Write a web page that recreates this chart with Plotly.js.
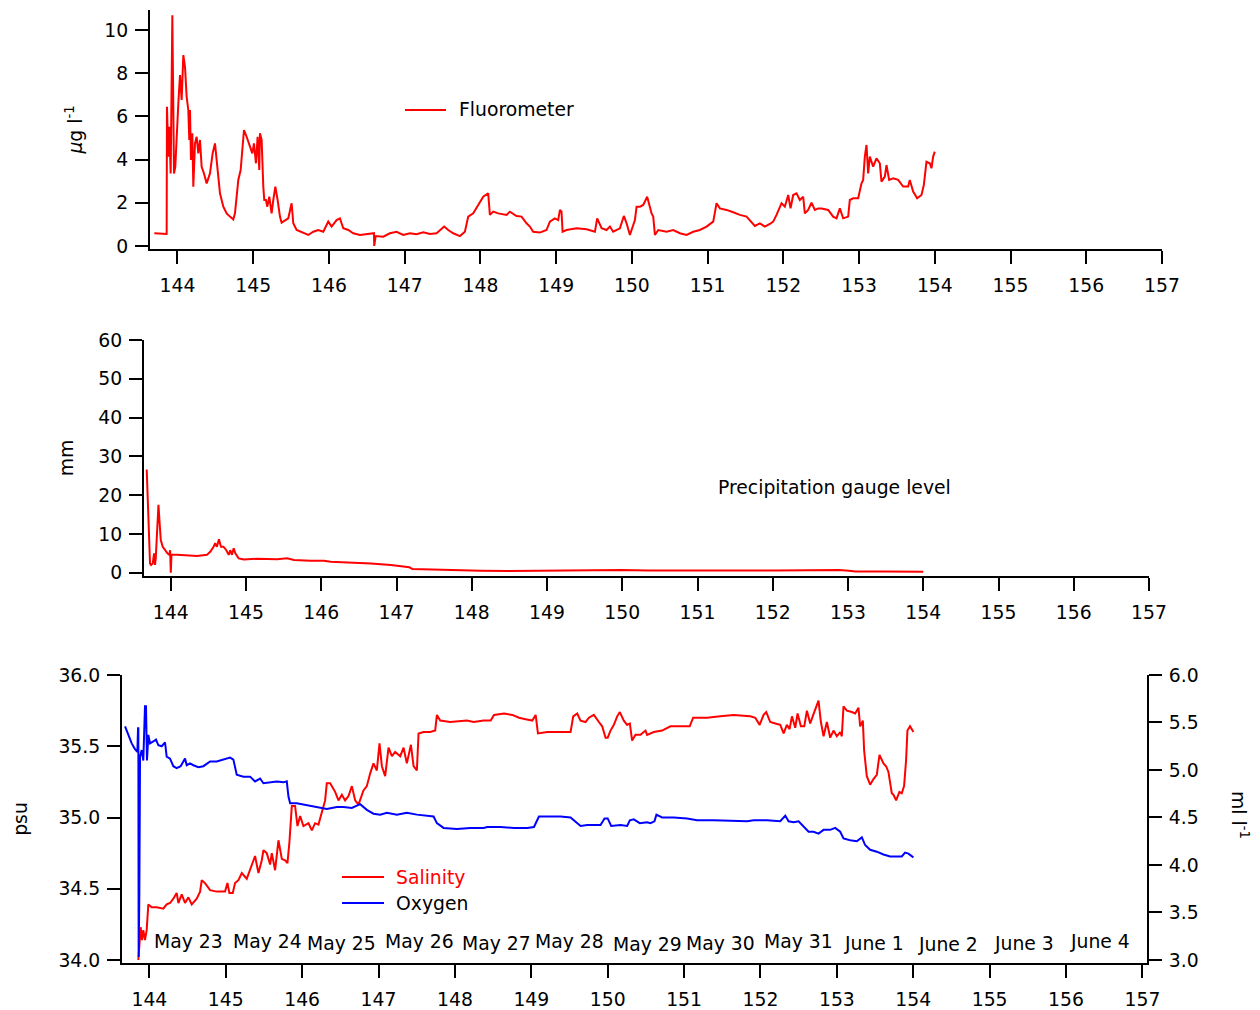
<!DOCTYPE html>
<html>
<head>
<meta charset="utf-8">
<script src="https://cdn.plot.ly/plotly-3.0.1.min.js"></script>
<style>html,body{margin:0;padding:0;background:#fff;}#chart{width:1260px;height:1010px;}</style>
</head>
<body>
<div id="chart"></div>
<script>
// ---------- Data ----------
const fluorDay = [143.694,143.857,143.861,143.879,143.892,143.910,143.932,143.954,143.971,143.989,144.011,144.033,144.055,144.077,144.099,144.121,144.143,144.156,144.165,144.178,144.196,144.209,144.231,144.253,144.275,144.297,144.319,144.350,144.385,144.429,144.464,144.495,144.517,144.539,144.561,144.605,144.649,144.693,144.737,144.759,144.803,144.834,144.860,144.878,144.913,144.957,144.988,145.010,145.036,145.058,145.080,145.089,145.111,145.133,145.146,145.168,145.186,145.212,145.243,145.265,145.292,145.322,145.353,145.375,145.419,145.463,145.507,145.529,145.573,145.661,145.727,145.793,145.859,145.925,145.991,146.035,146.101,146.145,146.189,146.255,146.321,146.409,146.541,146.594,146.598,146.616,146.717,146.805,146.893,146.981,147.069,147.157,147.245,147.333,147.421,147.522,147.575,147.641,147.729,147.795,147.839,147.905,147.971,148.037,148.103,148.125,148.169,148.235,148.345,148.389,148.477,148.543,148.609,148.653,148.697,148.785,148.873,148.917,148.983,149.027,149.050,149.071,149.085,149.137,149.270,149.401,149.512,149.542,149.600,149.665,149.710,149.753,149.842,149.894,149.930,149.974,149.996,150.040,150.062,150.106,150.150,150.202,150.237,150.260,150.282,150.304,150.348,150.458,150.546,150.634,150.722,150.810,150.898,150.986,151.074,151.096,151.118,151.162,151.250,151.338,151.426,151.514,151.580,151.624,151.690,151.756,151.822,151.866,151.910,151.976,152.020,152.064,152.095,152.130,152.174,152.218,152.262,152.284,152.328,152.372,152.416,152.460,152.504,152.592,152.657,152.702,152.746,152.790,152.856,152.878,152.922,152.988,153.032,153.054,153.076,153.098,153.120,153.142,153.186,153.230,153.274,153.296,153.340,153.362,153.397,153.450,153.516,153.582,153.648,153.670,153.714,153.767,153.824,153.855,153.890,153.934,153.956,153.978,154.000];
const fluorVal = [0.59,0.56,6.45,4.14,5.52,3.36,10.69,3.36,3.67,5.22,6.60,7.92,6.76,8.84,8.30,6.91,6.30,4.91,6.30,3.98,5.22,2.75,4.75,5.06,4.29,4.91,3.67,3.36,2.90,3.36,4.29,4.75,3.98,3.36,2.44,1.82,1.51,1.36,1.23,1.51,3.06,3.52,4.91,5.37,5.06,4.60,4.29,4.75,3.83,5.06,3.52,5.22,4.91,2.75,2.13,2.13,1.82,2.28,1.51,2.13,2.75,2.13,1.36,1.08,1.20,1.28,1.98,1.05,0.74,0.59,0.51,0.66,0.74,0.66,1.13,0.90,1.20,1.28,0.82,0.74,0.59,0.51,0.59,0.59,0.00,0.46,0.43,0.59,0.66,0.51,0.59,0.54,0.63,0.56,0.59,0.90,0.74,0.59,0.46,0.66,1.36,1.51,1.90,2.28,2.44,1.44,1.59,1.51,1.44,1.59,1.39,1.36,1.05,0.90,0.66,0.62,0.74,1.13,1.28,1.20,1.67,1.59,0.66,0.74,0.82,0.77,0.66,1.28,0.82,0.74,0.90,0.66,0.82,1.39,1.05,0.51,0.74,1.20,1.82,1.82,1.90,2.28,1.82,1.51,1.36,0.51,0.74,0.66,0.74,0.59,0.51,0.66,0.74,0.90,1.13,1.67,1.98,1.74,1.67,1.56,1.44,1.36,1.13,0.93,1.05,0.90,1.02,1.13,1.44,1.98,1.82,2.36,1.74,2.36,2.44,2.13,2.28,1.51,1.67,2.01,1.67,1.74,1.74,1.67,1.36,1.28,1.74,1.28,1.36,2.13,2.21,2.21,2.90,3.06,4.14,4.68,3.36,4.14,3.67,4.06,3.83,2.98,3.21,3.75,3.06,3.13,3.06,2.75,2.75,3.06,2.52,2.21,2.36,2.82,3.90,3.83,3.60,4.14,4.37];

const precipDay = [143.680,143.693,143.707,143.716,143.724,143.738,143.760,143.778,143.791,143.800,143.822,143.836,143.849,143.867,143.893,143.924,143.956,143.982,143.991,144.000,144.009,144.080,144.258,144.350,144.480,144.524,144.569,144.590,144.613,144.640,144.667,144.700,144.738,144.770,144.790,144.813,144.836,144.858,144.902,144.970,145.147,145.413,145.547,145.636,145.858,146.036,146.124,146.391,146.658,146.924,147.100,147.170,147.213,147.370,147.724,148.120,148.500,148.970,149.550,149.990,150.350,151.140,151.320,152.030,152.570,152.880,153.010,153.100,153.460,154.000];
const precipVal = [26.6,20.5,12.7,10.1,2.4,2.0,2.4,5.0,2.0,3.7,13.6,17.5,13.6,8.4,6.7,5.8,5.0,4.6,5.8,0.0,4.6,4.6,4.4,4.3,4.6,5.4,6.7,7.6,6.7,8.6,6.7,6.7,5.8,4.6,5.8,4.6,6.3,5.0,3.7,3.4,3.6,3.5,3.7,3.3,3.1,3.1,2.8,2.6,2.4,2.0,1.5,1.4,0.95,0.86,0.69,0.52,0.45,0.50,0.75,0.70,0.55,0.65,0.55,0.55,0.75,0.70,0.50,0.30,0.28,0.25];

const salDay = [143.856,143.869,143.886,143.904,143.921,143.943,143.965,143.987,144.031,144.096,144.183,144.227,144.271,144.314,144.358,144.380,144.424,144.467,144.511,144.555,144.620,144.664,144.686,144.729,144.795,144.882,144.991,145.022,145.048,145.092,145.122,145.166,145.210,145.275,145.341,145.384,145.428,145.472,145.493,145.537,145.581,145.603,145.646,145.690,145.734,145.777,145.808,145.834,145.865,145.908,145.939,145.974,146.017,146.083,146.127,146.170,146.214,146.258,146.301,146.323,146.367,146.432,146.476,146.520,146.563,146.607,146.651,146.694,146.738,146.803,146.847,146.891,146.934,146.978,147.013,147.044,147.087,147.131,147.175,147.218,147.284,147.328,147.371,147.424,147.459,147.502,147.524,147.590,147.677,147.742,147.764,147.808,147.939,148.157,148.245,148.376,148.468,148.512,148.643,148.752,148.839,148.926,149.013,149.057,149.087,149.209,149.383,149.514,149.549,149.601,149.645,149.710,149.754,149.819,149.885,149.928,149.972,150.000,150.037,150.081,150.124,150.159,150.211,150.255,150.290,150.320,150.364,150.429,150.495,150.516,150.603,150.712,150.821,150.908,151.074,151.118,151.301,151.475,151.649,151.867,151.932,151.989,152.041,152.076,152.128,152.194,152.259,152.303,152.346,152.381,152.412,152.455,152.486,152.529,152.573,152.608,152.651,152.704,152.760,152.791,152.826,152.869,152.913,152.956,153.000,153.044,153.065,153.087,153.131,153.196,153.240,153.283,153.305,153.340,153.357,153.392,153.436,153.479,153.523,153.558,153.610,153.645,153.675,153.719,153.741,153.776,153.819,153.850,153.880,153.906,153.924,153.958,154.002];
const salVal = [34.00,34.14,34.23,34.14,34.21,34.14,34.21,34.39,34.37,34.37,34.36,34.39,34.40,34.43,34.47,34.40,34.46,34.40,34.44,34.39,34.43,34.48,34.56,34.54,34.49,34.48,34.48,34.54,34.47,34.47,34.54,34.56,34.61,34.57,34.66,34.73,34.61,34.70,34.77,34.75,34.67,34.75,34.63,34.84,34.71,34.70,34.68,34.83,35.08,35.08,34.94,35.01,34.94,34.96,34.91,34.96,34.95,35.03,35.12,35.24,35.24,35.18,35.12,35.16,35.12,35.15,35.22,35.12,35.09,35.19,35.22,35.31,35.38,35.33,35.52,35.36,35.29,35.49,35.43,35.46,35.43,35.49,35.38,35.51,35.36,35.33,35.59,35.60,35.60,35.61,35.72,35.68,35.67,35.68,35.67,35.68,35.68,35.72,35.73,35.72,35.70,35.69,35.68,35.72,35.59,35.60,35.60,35.60,35.71,35.73,35.68,35.67,35.70,35.72,35.67,35.64,35.56,35.56,35.61,35.65,35.71,35.74,35.68,35.65,35.66,35.54,35.58,35.58,35.61,35.58,35.60,35.61,35.64,35.64,35.64,35.70,35.70,35.71,35.72,35.71,35.70,35.65,35.72,35.74,35.67,35.66,35.65,35.59,35.65,35.62,35.71,35.63,35.73,35.64,35.64,35.75,35.66,35.74,35.82,35.67,35.57,35.67,35.56,35.61,35.57,35.60,35.57,35.78,35.75,35.74,35.73,35.77,35.64,35.68,35.47,35.29,35.23,35.27,35.30,35.44,35.38,35.36,35.32,35.17,35.16,35.12,35.18,35.17,35.22,35.40,35.61,35.64,35.60];

const oxyDay = [143.682,143.725,143.769,143.812,143.843,143.852,143.856,143.860,143.869,143.878,143.900,143.921,143.943,143.956,143.969,143.987,144.009,144.052,144.087,144.118,144.162,144.205,144.227,144.271,144.314,144.358,144.410,144.445,144.467,144.489,144.533,144.576,144.642,144.707,144.795,144.882,144.969,145.057,145.100,145.144,145.231,145.319,145.384,145.450,145.493,145.581,145.668,145.755,145.799,145.821,145.843,145.930,146.061,146.192,146.323,146.454,146.541,146.651,146.760,146.847,146.934,147.022,147.109,147.240,147.371,147.502,147.721,147.764,147.852,148.026,148.201,148.376,148.425,148.599,148.773,148.948,149.035,149.100,149.209,149.383,149.514,149.580,149.645,149.732,149.906,149.959,150.000,150.046,150.168,150.255,150.290,150.342,150.420,150.516,150.560,150.612,150.638,150.712,150.865,151.039,151.170,151.388,151.649,151.824,151.911,152.085,152.259,152.281,152.325,152.368,152.434,152.499,152.564,152.630,152.695,152.760,152.826,152.913,152.978,153.044,153.087,153.174,153.261,153.327,153.370,153.436,153.523,153.610,153.697,153.784,153.850,153.893,153.937,154.002];
const oxyVal = [5.46,5.37,5.28,5.22,5.19,5.44,5.44,3.03,3.70,5.14,5.21,5.10,5.67,5.67,5.10,5.37,5.28,5.30,5.32,5.26,5.25,5.29,5.14,5.12,5.04,5.02,5.04,5.09,5.12,5.05,5.07,5.05,5.03,5.04,5.09,5.09,5.11,5.13,5.11,4.95,4.93,4.93,4.88,4.91,4.86,4.87,4.88,4.87,4.88,4.72,4.65,4.65,4.63,4.61,4.59,4.61,4.61,4.60,4.64,4.58,4.54,4.53,4.55,4.53,4.55,4.53,4.51,4.44,4.39,4.38,4.39,4.39,4.40,4.40,4.39,4.39,4.40,4.51,4.51,4.51,4.50,4.45,4.41,4.42,4.42,4.49,4.49,4.41,4.42,4.41,4.47,4.48,4.44,4.45,4.44,4.46,4.53,4.50,4.50,4.49,4.47,4.47,4.46,4.46,4.47,4.47,4.46,4.48,4.52,4.46,4.45,4.46,4.40,4.35,4.35,4.33,4.37,4.37,4.39,4.35,4.28,4.26,4.25,4.29,4.21,4.16,4.14,4.11,4.09,4.09,4.09,4.13,4.12,4.08];

const dateLabels = ['May 23','May 24','May 25','May 26','May 27','May 28','May 29','May 30','May 31','June 1','June 2','June 3','June 4'];
const dateLabelDay = [144.51,145.55,146.52,147.54,148.55,149.50,150.52,151.48,152.50,153.49,154.45,155.45,156.44];
const dateLabelSal = [34.133,34.133,34.119,34.133,34.119,34.133,34.112,34.119,34.133,34.119,34.112,34.119,34.133];

// ---------- Style ----------
const FONT = 'DejaVu Sans, Verdana, sans-serif';
const FS = 18.8;
const W = 1260, H = 1010;
const px = v => v / W;
const py = v => 1 - v / H;

function axisBase(extra) {
  return Object.assign({
    showline: true, linecolor: '#000', linewidth: 2,
    ticks: 'outside', ticklen: 13, tickwidth: 2, tickcolor: '#000',
    showgrid: false, zeroline: false, fixedrange: true,
    tickfont: {family: FONT, size: FS, color: '#000'}
  }, extra);
}

const traces = [
  {x: fluorDay, y: fluorVal, xaxis: 'x', yaxis: 'y', type: 'scatter', mode: 'lines', name: 'Fluorometer',
   line: {color: '#ff0000', width: 2}},
  {x: precipDay, y: precipVal, xaxis: 'x2', yaxis: 'y2', type: 'scatter', mode: 'lines', name: 'Precipitation gauge level',
   line: {color: '#ff0000', width: 2}},
  {x: salDay, y: salVal, xaxis: 'x3', yaxis: 'y3', type: 'scatter', mode: 'lines', name: 'Salinity',
   line: {color: '#ff0000', width: 2}},
  {x: oxyDay, y: oxyVal, xaxis: 'x3', yaxis: 'y4', type: 'scatter', mode: 'lines', name: 'Oxygen',
   line: {color: '#0000ff', width: 2}}
];

const titleFont = {family: FONT, size: FS, color: '#000'};

const annotations = [
  {xref: 'paper', yref: 'paper', x: px(457), y: py(110), xanchor: 'left', yanchor: 'middle',
   text: 'Fluorometer', showarrow: false, font: titleFont},
  {xref: 'paper', yref: 'paper', x: px(716), y: py(487), xanchor: 'left', yanchor: 'middle',
   text: 'Precipitation gauge level', showarrow: false, font: titleFont},
  {xref: 'paper', yref: 'paper', x: px(394), y: py(877), xanchor: 'left', yanchor: 'middle',
   text: 'Salinity', showarrow: false, font: {family: FONT, size: FS, color: '#ff0000'}},
  {xref: 'paper', yref: 'paper', x: px(394), y: py(903), xanchor: 'left', yanchor: 'middle',
   text: 'Oxygen', showarrow: false, font: titleFont},
  {xref: 'paper', yref: 'paper', x: px(1240), y: py(815), xanchor: 'center', yanchor: 'middle',
   text: 'ml l<sup>-1</sup>', textangle: 90, showarrow: false, font: titleFont}
];
dateLabels.forEach((t, i) => {
  annotations.push({xref: 'x3', yref: 'y3', x: dateLabelDay[i], y: dateLabelSal[i],
    xanchor: 'center', yanchor: 'middle', text: t, showarrow: false, font: titleFont});
});

const shapes = [
  {type: 'line', xref: 'paper', yref: 'paper', x0: px(405), x1: px(446), y0: py(110), y1: py(110), line: {color: '#ff0000', width: 2}},
  {type: 'line', xref: 'paper', yref: 'paper', x0: px(342), x1: px(384), y0: py(877), y1: py(877), line: {color: '#ff0000', width: 2}},
  {type: 'line', xref: 'paper', yref: 'paper', x0: px(342), x1: px(384), y0: py(903), y1: py(903), line: {color: '#0000ff', width: 2}}
];

const layout = {
  width: W, height: H,
  margin: {l: 0, r: 0, t: 0, b: 0, pad: 0},
  paper_bgcolor: '#fff', plot_bgcolor: '#fff',
  showlegend: false,
  font: {family: FONT, size: FS, color: '#000'},
  xaxis: axisBase({domain: [px(150), px(1162)], range: [143.637, 157.0], anchor: 'y', tick0: 144, dtick: 1, ticklabelstandoff: 5}),
  yaxis: axisBase({domain: [py(249), py(10)], range: [-0.14, 10.93], anchor: 'x', tick0: 0, dtick: 2, ticklabelstandoff: 3,
    title: {text: '<i>μ</i>g l<sup>-1</sup>', font: titleFont, standoff: 17}}),
  xaxis2: axisBase({domain: [px(144), px(1149)], range: [143.644, 157.0], anchor: 'y2', tick0: 144, dtick: 1, ticklabelstandoff: 5}),
  yaxis2: axisBase({domain: [py(576), py(340)], range: [-0.85, 60], anchor: 'x2', tick0: 0, dtick: 10, ticklabelstandoff: 3,
    title: {text: 'mm', font: titleFont, standoff: 20}}),
  xaxis3: axisBase({domain: [px(122), px(1147)], range: [143.642, 157.06], anchor: 'y3', tick0: 144, dtick: 1, ticklabelstandoff: 5}),
  yaxis3: axisBase({domain: [py(963), py(675)], range: [33.979, 36.0], anchor: 'x3', tick0: 34, dtick: 0.5, tickformat: '.1f', ticklabelstandoff: 3,
    title: {text: 'psu', font: titleFont, standoff: 26}}),
  yaxis4: axisBase({domain: [py(963), py(675)], range: [2.968, 6.0], anchor: 'x3', overlaying: 'y3', side: 'right',
    tick0: 3, dtick: 0.5, tickformat: '.1f', ticklabelstandoff: 3}),
  annotations: annotations,
  shapes: shapes
};

Plotly.newPlot('chart', traces, layout, {displayModeBar: false, staticPlot: true});
</script>
</body>
</html>
